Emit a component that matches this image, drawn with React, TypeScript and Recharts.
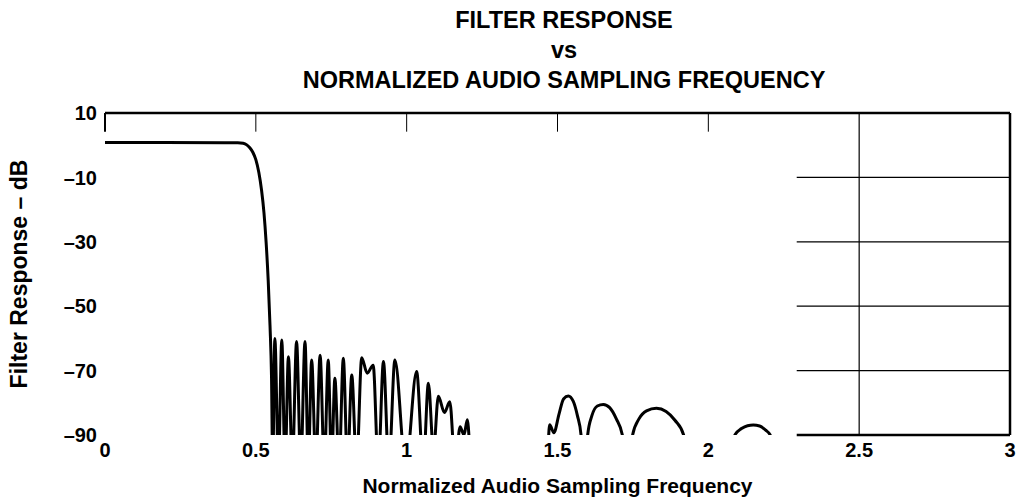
import { LineChart, Line, XAxis, YAxis, ReferenceLine } from "recharts";

// passband and the steep transition edge
const passFreq = [0, 0.2, 0.44, 0.458, 0.47, 0.48, 0.49, 0.5, 0.51, 0.519, 0.527, 0.534, 0.541, 0.547, 0.552];
const passDb = [0.8, 0.8, 0.75, 0.6, 0.1, -0.8, -2.2, -4.5, -8.5, -14, -21, -30, -42, -56, -72];

// dense stopband lobes (-100 = null, drops off the bottom of the plot)
const stopFreq = [
  0.556, 0.563, 0.575, 0.586, 0.597, 0.608, 0.621, 0.635, 0.649, 0.663, 0.674, 0.685,
  0.699, 0.713, 0.727, 0.74, 0.751, 0.762, 0.776, 0.79, 0.804, 0.818, 0.834, 0.851,
  0.869, 0.889, 0.906, 0.923, 0.941, 0.961, 0.997, 1.033, 1.055, 1.072, 1.089, 1.105,
  1.125, 1.143, 1.161, 1.177, 1.19, 1.201, 1.215,
];
const stopDb = [
  -100, -60, -100, -60.5, -100, -65.7, -100, -61, -100, -61, -100, -66.7,
  -100, -65.2, -100, -66.7, -100, -72.4, -100, -66.2, -100, -71.4, -100, -66,
  -70.8, -68.3, -100, -67.2, -100, -66.7, -100, -70.3, -100, -73.9, -95, -78,
  -83, -79.7, -100, -87.4, -90, -85.3, -100,
];

// far stopband image lobes
const farFreq = [
  1.466, 1.474, 1.488, 1.505, 1.52, 1.536, 1.552, 1.566, 1.578, 1.584,
  1.593, 1.6, 1.614, 1.632, 1.652, 1.673, 1.695, 1.715, 1.722,
  1.742, 1.749, 1.77, 1.795, 1.828, 1.86, 1.89, 1.918, 1.926,
  2.08, 2.088, 2.11, 2.13, 2.149, 2.17, 2.19, 2.205, 2.213,
];
const farDb = [
  -96, -86.8, -89.3, -83.5, -78.8, -77.9, -79.5, -84, -90, -100,
  -100, -90, -84, -81, -80.5, -81.5, -85, -90, -100,
  -100, -90, -85, -82.5, -81.7, -82.7, -85.5, -90, -100,
  -100, -90, -88, -87.1, -86.9, -87.2, -88.5, -90, -100,
];

const xTicks = [0, 0.5, 1, 1.5, 2, 2.5, 3];
const yTicks = [10, -10, -30, -50, -70, -90];
const topTicks = [0.5, 1, 1.5, 2];
const gridRows = [-10, -30, -50, -70];
const gridStart = 2.293;
const tickEnd = 4.2;

const data = [
  ...passFreq.map((f, i) => ({ f, db: passDb[i] })),
  ...stopFreq.map((f, i) => ({ f, db: stopDb[i] })),
  ...farFreq.map((f, i) => ({ f, db: farDb[i] })),
];

const font = "'Liberation Sans', Arial, Helvetica, sans-serif";
const tickStyle = { fontFamily: font, fontWeight: 700, fontSize: 20, fill: "#000" };
const labelStyle = { fontFamily: font, fontWeight: 700, fontSize: 21, fill: "#000" };

const fmtDb = (v: number) => String(v).replace("-", "\u2013");

export default function App() {
  return (
    <div style={{ position: "relative", width: 1021, height: 503, background: "#fff" }}>
      <style>{"body{margin:0}"}</style>
      <div
        style={{
          position: "absolute",
          left: 564,
          top: 5,
          transform: "translateX(-50%)",
          whiteSpace: "nowrap",
          textAlign: "center",
          fontFamily: font,
          fontWeight: 700,
          fontSize: 23.5,
          lineHeight: "30px",
        }}
      >
        <div>FILTER RESPONSE</div>
        <div>vs</div>
        <div>NORMALIZED AUDIO SAMPLING FREQUENCY</div>
      </div>
      <LineChart width={1021} height={503} data={data} margin={{ top: 113, right: 11, left: 0, bottom: 0 }}>
        <XAxis
          type="number"
          dataKey="f"
          domain={[0, 3]}
          ticks={xTicks}
          interval={0}
          axisLine={false}
          tickLine={false}
          height={68}
          tick={tickStyle}
          label={{
            value: "Normalized Audio Sampling Frequency",
            position: "insideBottom",
            offset: 10,
            style: labelStyle,
          }}
        />
        <YAxis
          type="number"
          domain={[-90, 10]}
          allowDataOverflow
          ticks={yTicks}
          interval={0}
          axisLine={false}
          tickLine={false}
          width={105}
          tick={tickStyle}
          tickFormatter={fmtDb}
          label={{
            value: "Filter Response \u2013 dB",
            angle: -90,
            position: "insideLeft",
            offset: 19,
            style: { ...labelStyle, fontSize: 23, textAnchor: "middle" },
          }}
        />
        <ReferenceLine segment={[{ x: 0, y: 10 }, { x: 3, y: 10 }]} stroke="#000" strokeWidth={2.5} ifOverflow="visible" />
        <ReferenceLine segment={[{ x: 0, y: 10 }, { x: 0, y: tickEnd }]} stroke="#000" strokeWidth={2} ifOverflow="visible" />
        {topTicks.map((t) => (
          <ReferenceLine key={t} segment={[{ x: t, y: 10 }, { x: t, y: tickEnd }]} stroke="#000" strokeWidth={1} ifOverflow="visible" />
        ))}
        <ReferenceLine segment={[{ x: 2.5, y: 10 }, { x: 2.5, y: -90 }]} stroke="#000" strokeWidth={1.2} ifOverflow="visible" />
        <ReferenceLine segment={[{ x: 3, y: 10 }, { x: 3, y: -90 }]} stroke="#000" strokeWidth={2.5} ifOverflow="visible" />
        {gridRows.map((r) => (
          <ReferenceLine key={r} segment={[{ x: gridStart, y: r }, { x: 3, y: r }]} stroke="#000" strokeWidth={1.2} ifOverflow="visible" />
        ))}
        <ReferenceLine segment={[{ x: gridStart, y: -90 }, { x: 3, y: -90 }]} stroke="#000" strokeWidth={2.5} ifOverflow="visible" />
        <Line
          type="monotone"
          dataKey="db"
          stroke="#000"
          strokeWidth={3}
          strokeLinejoin="round"
          dot={false}
          activeDot={false}
          isAnimationActive={false}
        />
      </LineChart>
    </div>
  );
}
